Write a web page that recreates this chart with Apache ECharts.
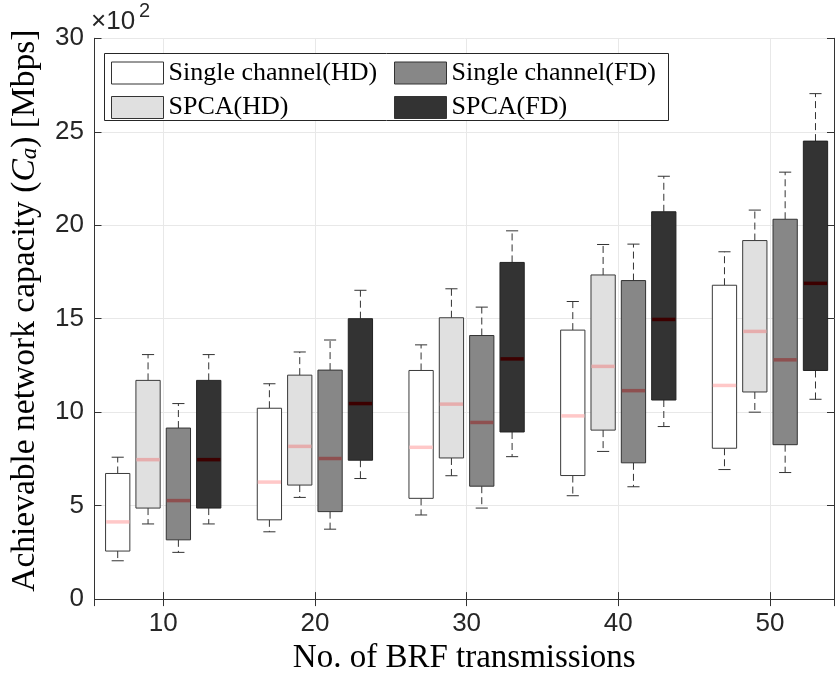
<!DOCTYPE html>
<html>
<head>
<meta charset="utf-8">
<script src="https://cdn.jsdelivr.net/npm/echarts@6.0.0/dist/echarts.min.js"></script>
<style>
  html, body { margin: 0; padding: 0; background: #fff; }
  #chart { width: 835px; height: 680px; }
</style>
</head>
<body>
<div id="chart"></div>
<script>
// x positions (No. of BRF transmissions)
var categories = [10, 20, 30, 40, 50];
var seriesNames = ['Single channel(HD)', 'SPCA(HD)', 'Single channel(FD)', 'SPCA(FD)'];

// each row: [min, q1, median, q3, max]  (x10^2 Mbps)
var singleHD = [
  [2.05, 2.57, 4.13, 6.72, 7.59],
  [3.60, 4.24, 6.26, 10.21, 11.52],
  [4.50, 5.39, 8.12, 12.23, 13.60],
  [5.53, 6.61, 9.80, 14.39, 15.92],
  [6.93, 8.07, 11.43, 16.79, 18.58]
];
var spcaHD = [
  [4.02, 4.87, 7.46, 11.70, 13.08],
  [5.44, 6.10, 8.17, 11.98, 13.22],
  [6.60, 7.55, 10.43, 15.05, 16.60],
  [7.90, 9.04, 12.45, 17.34, 18.97],
  [10.00, 11.08, 14.32, 19.18, 20.81]
];
var singleFD = [
  [2.50, 3.17, 5.27, 9.15, 10.46],
  [3.74, 4.68, 7.52, 12.25, 13.86],
  [4.87, 6.04, 9.45, 14.10, 15.62],
  [6.01, 7.29, 11.15, 17.04, 18.99],
  [6.77, 8.26, 12.80, 20.32, 22.84]
];
var spcaFD = [
  [4.02, 4.87, 7.46, 11.70, 13.08],
  [6.45, 7.43, 10.46, 15.00, 16.52],
  [7.62, 8.94, 12.85, 18.01, 19.70],
  [9.23, 10.65, 14.96, 20.72, 22.62],
  [10.69, 12.23, 16.89, 24.50, 27.04]
];
var yTicks = [0, 30, 5];

var allData = [singleHD, spcaHD, singleFD, spcaFD];
var offsets = [-3, -1, 1, 3];   // box offset from group position, in x units
var boxW = 1.6;
var capW = 0.8;

var fills   = ['#ffffff', '#e0e0e0', '#878787', '#333333'];
var borders = ['#3a3a3a', '#3a3a3a', '#333333', '#222222'];
var medians = ['#ffc8c8', '#e6adad', '#8e5050', '#3c0000'];

var serif = 'Liberation Serif';
var sans = 'Liberation Sans';

function makeRender(k) {
  return function (params, api) {
    var x = api.value(0);
    var pMin = api.coord([x, api.value(1)]);
    var pQ1 = api.coord([x, api.value(2)]);
    var pMed = api.coord([x, api.value(3)]);
    var pQ3 = api.coord([x, api.value(4)]);
    var pMax = api.coord([x, api.value(5)]);
    var w = api.size([boxW, 0])[0];
    var cw = api.size([capW, 0])[0];
    var cx = pMin[0];
    var dash = { stroke: '#333', lineWidth: 1, lineDash: [7, 4] };
    var solid = { stroke: '#333', lineWidth: 1 };
    return {
      type: 'group',
      children: [
        { type: 'line', shape: { x1: cx, y1: pQ3[1], x2: cx, y2: pMax[1] }, style: dash },
        { type: 'line', shape: { x1: cx, y1: pQ1[1], x2: cx, y2: pMin[1] }, style: dash },
        { type: 'line', shape: { x1: cx - cw / 2, y1: pMax[1], x2: cx + cw / 2, y2: pMax[1] }, style: solid },
        { type: 'line', shape: { x1: cx - cw / 2, y1: pMin[1], x2: cx + cw / 2, y2: pMin[1] }, style: solid },
        {
          type: 'rect',
          shape: { x: cx - w / 2, y: pQ3[1], width: w, height: pQ1[1] - pQ3[1] },
          style: { fill: fills[k], stroke: borders[k], lineWidth: 1 }
        },
        {
          type: 'line',
          shape: { x1: cx - w / 2 + 0.5, y1: pMed[1], x2: cx + w / 2 - 0.5, y2: pMed[1] },
          style: { stroke: medians[k], lineWidth: 3.5 }
        }
      ]
    };
  };
}

var series = [];
for (var k = 0; k < allData.length; k++) {
  var rows = [];
  for (var i = 0; i < categories.length; i++) {
    rows.push([categories[i] + offsets[k]].concat(allData[k][i]));
  }
  series.push({
    name: seriesNames[k],
    type: 'custom',
    renderItem: makeRender(k),
    itemStyle: { color: fills[k], borderColor: borders[k] },
    encode: { x: 0, y: [1, 2, 3, 4, 5] },
    data: rows,
    z: 2
  });
}

function legendItem(k) {
  return {
    name: seriesNames[k],
    itemStyle: { color: fills[k], borderColor: '#333', borderWidth: 1 }
  };
}

var legendBase = {
  orient: 'vertical',
  top: 60,
  padding: 0,
  itemWidth: 52,
  itemHeight: 22,
  itemGap: 8.5,
  icon: 'rect',
  selectedMode: false,
  z: 4,
  textStyle: { fontFamily: serif, fontSize: 26, color: '#000', lineHeight: 22 }
};

var chart = echarts.init(document.getElementById('chart'), null, { renderer: 'canvas' });

chart.setOption({
  animation: false,
  backgroundColor: '#fff',
  grid: { left: 91, right: 1, top: 38.3, bottom: 77.7 },
  legend: [
    Object.assign({}, legendBase, { left: 111, data: [legendItem(0), legendItem(1)] }),
    Object.assign({}, legendBase, { left: 394, data: [legendItem(2), legendItem(3)] })
  ],
  graphic: [
    {
      type: 'rect', z: 3,
      shape: { x: 104.5, y: 53.5, width: 564, height: 67 },
      style: { fill: '#fff', stroke: '#262626', lineWidth: 1 }
    },
    {
      type: 'text', left: 91, top: 9, z: 3,
      style: { text: '×10', font: '26px "Liberation Sans"', fill: '#262626' }
    },
    {
      type: 'text', left: 139, top: 1, z: 3,
      style: { text: '2', font: '20px "Liberation Sans"', fill: '#262626' }
    }
  ],
  xAxis: [
    {
      type: 'value',
      min: 5.47,
      max: 54.22,
      name: 'No. of BRF transmissions',
      nameLocation: 'middle',
      nameGap: 41,
      nameTextStyle: { fontFamily: serif, fontSize: 33, color: '#000' },
      axisLine: { show: true, lineStyle: { color: '#333', width: 1 } },
      axisTick: { show: true, inside: true, length: 7, lineStyle: { color: '#333' } },
      axisLabel: {
        fontFamily: sans, fontSize: 26, color: '#262626', margin: 12,
        showMinLabel: false, showMaxLabel: false
      },
      splitLine: { show: true, lineStyle: { color: '#e8e8e8', width: 1 } }
    },
    {
      type: 'value',
      position: 'top',
      min: 5.47,
      max: 54.22,
      axisLine: { show: true, lineStyle: { color: '#333', width: 1 } },
      axisTick: { show: true, inside: true, length: 7, lineStyle: { color: '#333' } },
      axisLabel: { show: false },
      splitLine: { show: false }
    }
  ],
  yAxis: [
    {
      type: 'value',
      min: yTicks[0],
      max: yTicks[1],
      interval: yTicks[2],
      name: '{n|Achievable network capacity (}{i|C}{s|a}{n|) [Mbps]}',
      nameLocation: 'middle',
      nameGap: 53,
      nameTextStyle: {
        color: '#000',
        padding: [0, 0, 0, 16],
        rich: {
          n: { fontFamily: serif, fontSize: 33.5, color: '#000', lineHeight: 33 },
          i: { fontFamily: serif, fontSize: 33.5, fontStyle: 'italic', color: '#000', lineHeight: 33 },
          s: { fontFamily: serif, fontSize: 23, fontStyle: 'italic', color: '#000', lineHeight: 23, verticalAlign: 'bottom' }
        }
      },
      axisLine: { show: true, lineStyle: { color: '#333', width: 1 } },
      axisTick: { show: true, inside: true, length: 7, lineStyle: { color: '#333' } },
      axisLabel: { fontFamily: sans, fontSize: 26, color: '#262626', margin: 10.5 },
      splitLine: { show: true, lineStyle: { color: '#e8e8e8', width: 1 } }
    },
    {
      type: 'value',
      position: 'right',
      min: yTicks[0],
      max: yTicks[1],
      interval: yTicks[2],
      axisLine: { show: true, lineStyle: { color: '#333', width: 1 } },
      axisTick: { show: true, inside: true, length: 7, lineStyle: { color: '#333' } },
      axisLabel: { show: false },
      splitLine: { show: false }
    }
  ],
  series: series
});
</script>
</body>
</html>
